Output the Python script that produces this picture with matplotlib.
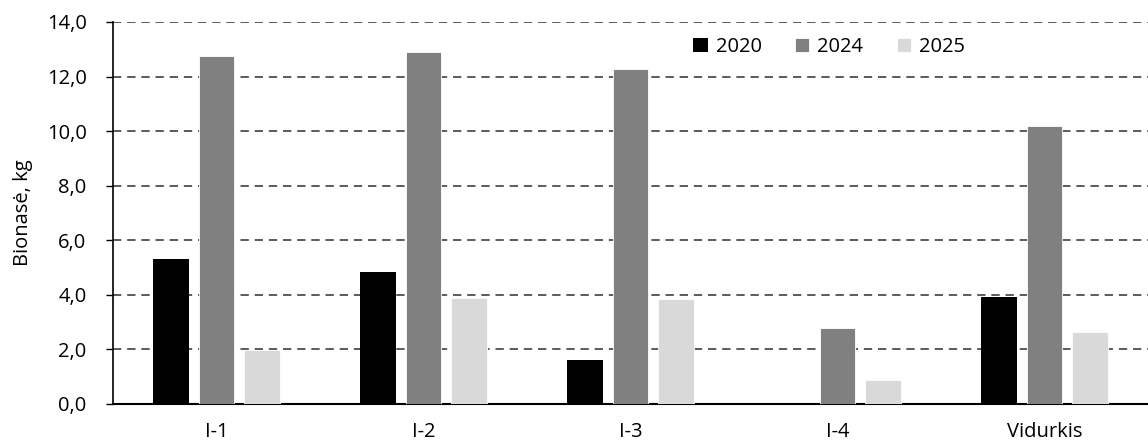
import matplotlib
matplotlib.use("Agg")
import matplotlib.pyplot as plt
import numpy as np

categories = ["I-1", "I-2", "I-3", "I-4", "Vidurkis"]
series_names = ["2020", "2024", "2025"]
v2020 = [5.30, 4.85, 1.63, 0.0, 3.93]
v2024 = [12.75, 12.90, 12.27, 2.78, 10.18]
v2025 = [1.97, 3.88, 3.83, 0.87, 2.63]
colors = ["#000000", "#808080", "#d9d9d9"]
yticks = [0, 2, 4, 6, 8, 10, 12, 14]

plt.rcParams['font.family'] = ['Open Sans', 'DejaVu Sans']
FS = 14.5

fig = plt.figure(figsize=(11.48, 4.46), dpi=100)
ax = fig.add_axes([113/1148, 42/446, 1035/1148, 382/446])

x = np.arange(len(categories))
w = 0.173
off = 0.221
for i, (vals, name, c) in enumerate(zip([v2020, v2024, v2025], series_names, colors)):
    ax.bar(x + (i - 1) * off, vals, width=w, color=c, label=name, zorder=3,
           edgecolor='white' if i else 'none', linewidth=0.6)

ax.set_xlim(-0.5, len(categories) - 0.5)
ax.set_ylim(0, 14)
ax.set_yticks(yticks)
ax.set_yticklabels([f"{t:.1f}".replace('.', ',') for t in yticks], fontsize=FS)
ax.set_xticks(x)
ax.set_xticklabels(categories, fontsize=FS)
ax.tick_params(axis='x', length=0, pad=13)
ax.tick_params(axis='y', length=5, width=1, direction='out', pad=14)
ax.yaxis.grid(True, linestyle=(0, (5, 3.5)), color='#404040', linewidth=1.2, zorder=0)
ax.set_axisbelow(True)
for s in ['top', 'right']:
    ax.spines[s].set_visible(False)
ax.spines['left'].set_linewidth(1.2)
ax.spines['bottom'].set_linewidth(1.5)
ax.set_ylabel("Bionasė, kg", fontsize=FS)
ax.yaxis.set_label_coords(-(113 - 33) / 1035, 0.5)

leg = ax.legend(loc='upper left', bbox_to_anchor=(0.543, 1.008), ncol=3, frameon=False,
                fontsize=FS, handlelength=0.72, handleheight=0.72, handletextpad=0.4,
                columnspacing=1.65, facecolor='white')

fig.savefig("out.png", dpi=100)
